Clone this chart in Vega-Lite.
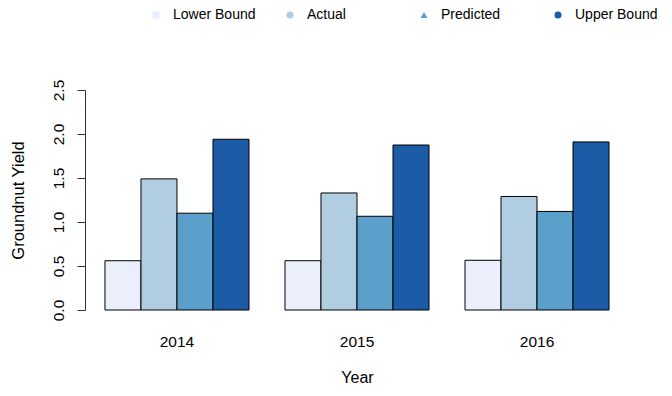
{
  "$schema": "https://vega.github.io/schema/vega-lite/v6.json",
  "autosize": {"type": "none"},
  "width": 544,
  "height": 220,
  "padding": {"left": 85, "top": 90, "right": 43, "bottom": 86},
  "background": "white",
  "config": {
    "view": {"stroke": null},
    "font": "Liberation Sans",
    "axis": {"labelFont": "Liberation Sans", "titleFont": "Liberation Sans", "labelColor": "#000", "titleColor": "#000", "titleFontWeight": "normal", "grid": false},
    "legend": {"title": null, "orient": "none", "legendX": 64, "legendY": -82, "direction": "horizontal", "columns": 4, "gridAlign": "all", "columnPadding": 27, "symbolSize": 50, "symbolOpacity": 1, "symbolStrokeWidth": 0, "labelFontSize": 14, "labelFont": "Liberation Sans", "labelColor": "#000", "labelOffset": 10, "padding": 0}
  },
  "data": {
    "values": [
      {"Year": "2014", "series": "Lower Bound", "value": 0.56},
      {"Year": "2014", "series": "Actual", "value": 1.49},
      {"Year": "2014", "series": "Predicted", "value": 1.10},
      {"Year": "2014", "series": "Upper Bound", "value": 1.94},
      {"Year": "2015", "series": "Lower Bound", "value": 0.56},
      {"Year": "2015", "series": "Actual", "value": 1.33},
      {"Year": "2015", "series": "Predicted", "value": 1.065},
      {"Year": "2015", "series": "Upper Bound", "value": 1.875},
      {"Year": "2016", "series": "Lower Bound", "value": 0.565},
      {"Year": "2016", "series": "Actual", "value": 1.29},
      {"Year": "2016", "series": "Predicted", "value": 1.12},
      {"Year": "2016", "series": "Upper Bound", "value": 1.91}
    ]
  },
  "encoding": {
    "x": {
      "field": "Year", "type": "nominal",
      "scale": {"paddingInner": 0.2, "paddingOuter": 0.111},
      "axis": {"title": "Year", "labelAngle": 0, "domain": false, "ticks": false, "tickSize": 0, "labelPadding": 24, "labelFontSize": 15.5, "titleFontSize": 16, "titlePadding": 20}
    },
    "xOffset": {
      "field": "series", "type": "nominal",
      "sort": ["Lower Bound", "Actual", "Predicted", "Upper Bound"],
      "scale": {"paddingInner": 0, "paddingOuter": 0}
    },
    "y": {
      "field": "value", "type": "quantitative",
      "scale": {"domain": [0, 2.5], "nice": false, "zero": true},
      "axis": {"title": "Groundnut Yield", "values": [0, 0.5, 1, 1.5, 2, 2.5], "format": ".1f", "labelAngle": -90, "labelAlign": "center", "labelBaseline": "bottom", "labelPadding": 11, "tickSize": 8, "labelFontSize": 15.5, "titleFontSize": 16.5, "titlePadding": 25, "domainColor": "#333", "tickColor": "#333", "labelFlush": false}
    },
    "color": {
      "field": "series", "type": "nominal",
      "scale": {"domain": ["Lower Bound", "Actual", "Predicted", "Upper Bound"], "range": ["#EAEFFB", "#B0CDE1", "#5AA0CB", "#1C5BA6"]}
    }
  },
  "layer": [
    {
      "mark": {"type": "bar", "stroke": "#000", "strokeWidth": 1}
    },
    {
      "mark": {"type": "point", "filled": true, "opacity": 0},
      "encoding": {
        "shape": {
          "field": "series", "type": "nominal",
          "scale": {"domain": ["Lower Bound", "Actual", "Predicted", "Upper Bound"], "range": ["square", "circle", "triangle-up", "circle"]}
        }
      }
    }
  ]
}
